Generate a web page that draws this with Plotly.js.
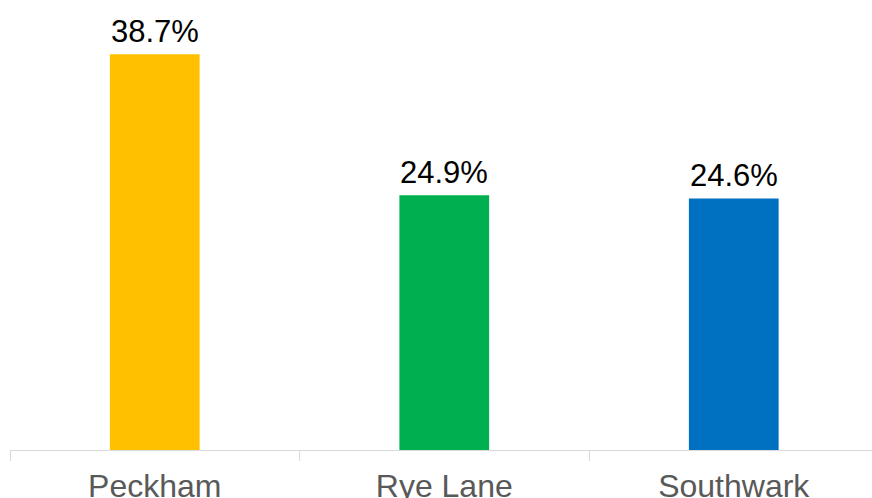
<!DOCTYPE html>
<html><head><meta charset="utf-8">
<script src="https://cdn.plot.ly/plotly-3.0.1.min.js"></script>
<style>html,body{margin:0;padding:0;background:#fff;}#chart{width:872px;height:498px;}</style>
</head><body><div id="chart"></div>
<script>
const categories = ["Peckham", "Rye Lane", "Southwark"];
const values = [38.7, 24.9, 24.6];
const labels = ["38.7%", "24.9%", "24.6%"];
const colors = ["#FFC000", "#00B050", "#0070C0"];

const trace = {
  type: "bar", x: categories, y: values,
  marker: {color: colors},
  hoverinfo: "none", width: 0.31
};
const annotations = categories.map((c, i) => ({
  x: c, y: values[i], xref: "x", yref: "y",
  text: labels[i], showarrow: false, yanchor: "bottom", yshift: 3,
  font: {family: "Liberation Sans, Arial, sans-serif", size: 31, color: "#000"}
}));
const layout = {
  width: 872, height: 498,
  margin: {l: 10, r: 0, t: 0, b: 48},
  paper_bgcolor: "#fff", plot_bgcolor: "#fff",
  showlegend: false,
  annotations: annotations,
  xaxis: {
    type: "category", range: [-0.5, 2.4775],
    showline: true, linecolor: "#d9d9d9", linewidth: 1,
    ticks: "outside", tickson: "boundaries", ticklen: 10, tickcolor: "#d9d9d9",
    showgrid: false, zeroline: false, ticklabelstandoff: 8,
    tickfont: {family: "Liberation Sans, Arial, sans-serif", size: 32, color: "#595959"}
  },
  yaxis: {range: [0, 44], visible: false, showgrid: false, zeroline: false}
};
Plotly.newPlot("chart", [trace], layout, {staticPlot: true});
</script></body></html>
